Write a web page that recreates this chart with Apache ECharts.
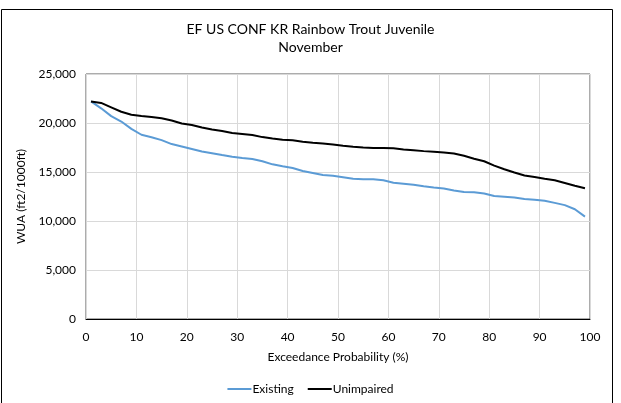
<!DOCTYPE html>
<html>
<head>
<meta charset="utf-8">
<script src="https://cdn.jsdelivr.net/npm/echarts@6/dist/echarts.min.js"></script>
<style>
html,body{margin:0;padding:0;background:#fff;}
#chart{width:621px;height:403px;}
</style>
</head>
<body>
<div id="chart"></div>
<script>
const titleLines = ['EF US CONF KR Rainbow Trout Juvenile', 'November'];
const xAxisName = 'Exceedance Probability (%)';
const yAxisName = 'WUA (ft2/1000ft)';
const seriesNames = ['Existing', 'Unimpaired'];
const exceedance = [1,3,5,7,9,11,13,15,17,19,21,23,25,27,29,31,33,35,37,39,41,43,45,47,49,51,53,55,57,59,61,63,65,67,69,71,73,75,77,79,81,83,85,87,89,91,93,95,97,99];
const existing = [22200,21500,20700,20150,19400,18800,18550,18250,17850,17600,17350,17100,16920,16730,16550,16420,16330,16100,15780,15580,15400,15100,14900,14690,14620,14460,14300,14260,14260,14150,13900,13800,13700,13550,13430,13320,13120,12950,12930,12800,12550,12480,12400,12250,12160,12060,11850,11620,11200,10450];
const unimpaired = [22200,22050,21600,21150,20850,20720,20620,20480,20250,19950,19800,19550,19330,19180,18980,18880,18780,18560,18420,18300,18230,18080,17980,17900,17800,17680,17580,17500,17460,17450,17420,17300,17220,17130,17060,16980,16880,16650,16350,16100,15650,15280,14950,14650,14480,14300,14150,13880,13600,13350];

const FONT = 'Lato, "Open Sans", sans-serif';
const chart = echarts.init(document.getElementById('chart'));
const pairs = (xs, ys) => xs.map((x, i) => [x, ys[i]]);
chart.setOption({
  animation: false,
  backgroundColor: '#fff',
  textStyle: {fontFamily: FONT},
  graphic: [{
    type: 'rect', silent: true,
    shape: {x: 1.5, y: 9.5, width: 611, height: 400},
    style: {fill: 'none', stroke: '#000', lineWidth: 1}
  }],
  title: {
    text: titleLines.join('\n'),
    left: 'center', top: 15,
    textStyle: {fontFamily: FONT, fontSize: 14, fontWeight: 'normal', color: '#000', lineHeight: 18}
  },
  legend: {
    bottom: 3, left: 'center',
    itemWidth: 24, itemHeight: 2, itemGap: 14,
    icon: 'rect',
    textStyle: {fontFamily: FONT, fontSize: 12, color: '#000', padding: [0,0,0,-4]},
    data: seriesNames
  },
  grid: {
    left: 86, right: 31, top: 74, bottom: 84,
    show: true, borderColor: '#595959', borderWidth: 1
  },
  xAxis: {
    type: 'value', min: 0, max: 100, interval: 10,
    name: xAxisName, nameLocation: 'middle', nameGap: 32,
    nameTextStyle: {fontFamily: FONT, fontSize: 12, color: '#000'},
    axisLine: {show: true, lineStyle: {color: '#000'}},
    axisTick: {show: false},
    axisLabel: {fontFamily: FONT, fontSize: 12, color: '#000', margin: 12},
    splitLine: {show: true, lineStyle: {color: '#d9d9d9'}}
  },
  yAxis: {
    type: 'value', min: 0, max: 25000, interval: 5000,
    name: yAxisName, nameLocation: 'middle', nameGap: 54,
    nameTextStyle: {fontFamily: FONT, fontSize: 12, color: '#000'},
    axisLine: {show: false},
    axisTick: {show: false},
    axisLabel: {fontFamily: FONT, fontSize: 12, color: '#000', margin: 10,
      formatter: v => v.toLocaleString('en-US')},
    splitLine: {show: true, lineStyle: {color: '#d9d9d9'}}
  },
  series: [
    {name: seriesNames[0], type: 'line', showSymbol: false, data: pairs(exceedance, existing),
     lineStyle: {color: '#5b9bd5', width: 2}, itemStyle: {color: '#5b9bd5'}},
    {name: seriesNames[1], type: 'line', showSymbol: false, data: pairs(exceedance, unimpaired),
     lineStyle: {color: '#000', width: 2}, itemStyle: {color: '#000'}}
  ]
});
</script>
</body>
</html>
